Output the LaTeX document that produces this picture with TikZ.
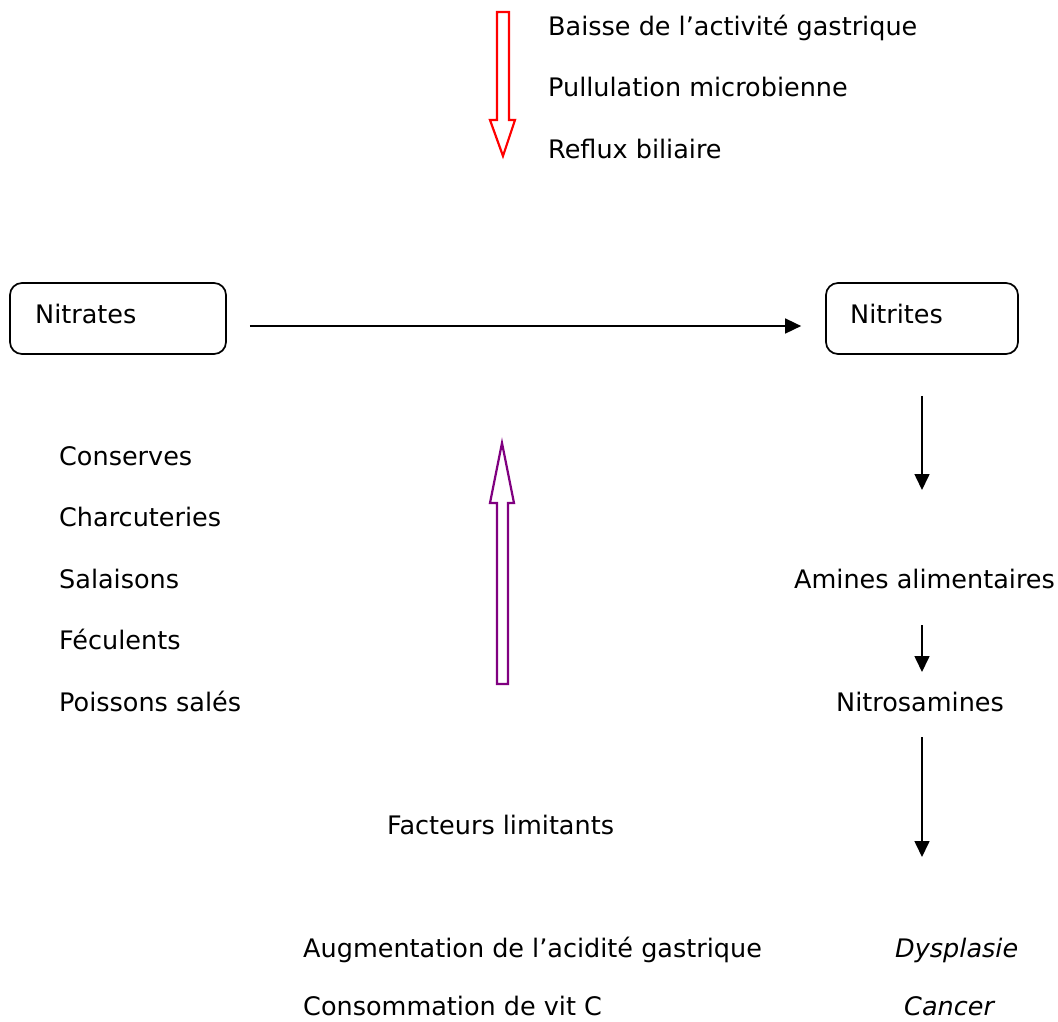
\documentclass[tikz,border=0pt]{standalone}
\usepackage{fontspec}
\setmainfont{DejaVu Sans}
\usetikzlibrary{arrows.meta}
\definecolor{arrowpurple}{RGB}{128,0,128}
\begin{document}
\begin{tikzpicture}[x=1pt,y=-1pt,
  txt/.style={anchor=base west,inner sep=0pt,text depth=0pt,font=\fontsize{25.5}{30}\selectfont},
  itxt/.style={txt,font=\fontsize{25.5}{30}\selectfont\itshape},
  boxed/.style={draw,line width=1.7pt,rounded corners=12pt,minimum width=216pt,minimum height=71pt,inner sep=0pt},
  arr/.style={line width=1.6pt,-{Triangle[length=16pt,width=15pt]}},
  blockarrow/.style={line width=2.2pt,fill=white,line join=miter}
]
\useasboundingbox (0,0) rectangle (1058,1021);
% top red block arrow and texts
\draw[blockarrow,draw=red] (497,12) -- (509,12) -- (509,120) -- (515,120) -- (503,156) -- (490,120) -- (497,120) -- cycle;
\node[txt] (t1) at (548,35) {Baisse de l’activité gastrique};
\node[txt] (t2) at (548,96) {Pullulation microbienne};
\node[txt] (t3) at (548,158) {Reflux biliaire};
% boxes
\node[boxed] (nitratesbox) at (118,318.5) {};
\node[txt] (nitrates) at (35,323) {Nitrates};
\node[boxed,minimum width=192pt] (nitritesbox) at (922,318.5) {};
\node[txt] (nitrites) at (850,323) {Nitrites};
\draw[arr,shorten <=23pt,shorten >=24pt] (nitratesbox.east |- 0,326) -- (nitritesbox.west |- 0,326);
% left list
\node[txt] (l1) at (59,465) {Conserves};
\node[txt] (l2) at (59,526) {Charcuteries};
\node[txt] (l3) at (59,588) {Salaisons};
\node[txt] (l4) at (59,649) {Féculents};
\node[txt] (l5) at (59,711) {Poissons salés};
% purple block arrow
\draw[blockarrow,draw=arrowpurple] (497,684) -- (508,684) -- (508,503) -- (514,503) -- (502,443) -- (490,503) -- (497,503) -- cycle;
\node[txt] (facteurs) at (387,834) {Facteurs limitants};
\node[txt] (r1) at (303,957) {Augmentation de l’acidité gastrique};
\node[txt] (r2) at (303,1015) {Consommation de vit C};
% right chain
\node[txt] (amines) at (794,588) {Amines alimentaires};
\node[txt] (nitrosamines) at (836,711) {Nitrosamines};
\node[itxt] (dysplasie) at (895,957) {Dysplasie};
\node[itxt] (cancer) at (904,1015) {Cancer};
\coordinate (e1) at (922,490);
\coordinate (e2) at (922,672);
\coordinate (e3) at (922,857);
\draw[arr,shorten <=41pt] (nitritesbox.south) -- (e1);
\draw[arr] (e1 |- 0,625) -- (e2);
\draw[arr] (e2 |- 0,737) -- (e3);
\end{tikzpicture}
\end{document}
